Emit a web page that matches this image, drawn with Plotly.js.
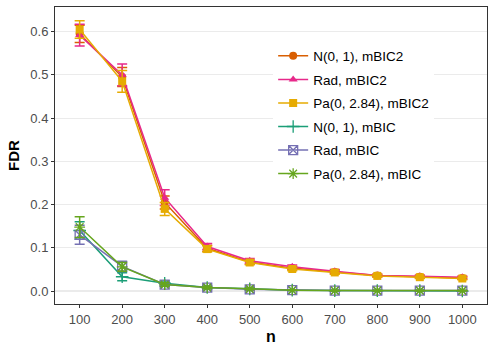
<!DOCTYPE html>
<html>
<head>
<meta charset="utf-8">
<script src="https://cdn.plot.ly/plotly-3.0.1.min.js"></script>
<style>html,body{margin:0;padding:0;background:#fff;}#chart{width:495px;height:350px;}</style>
</head>
<body>
<div id="chart"></div>
<script>
const n = [100, 200, 300, 400, 500, 600, 700, 800, 900, 1000];
const seriesNames = ["N(0, 1), mBIC2", "Rad, mBIC2", "Pa(0, 2.84), mBIC2", "N(0, 1), mBIC", "Rad, mBIC", "Pa(0, 2.84), mBIC"];
const fdrNormMBIC2 = [0.595, 0.495, 0.205, 0.099, 0.067, 0.053, 0.044, 0.036, 0.033, 0.030];
const errNormMBIC2 = [0.020, 0.022, 0.015, 0.007, 0.005, 0.004, 0.004, 0.003, 0.003, 0.003];
const fdrRadMBIC2 = [0.592, 0.500, 0.216, 0.103, 0.070, 0.056, 0.046, 0.036, 0.034, 0.032];
const errRadMBIC2 = [0.025, 0.025, 0.018, 0.007, 0.005, 0.004, 0.004, 0.003, 0.003, 0.003];
const fdrParMBIC2 = [0.605, 0.485, 0.190, 0.097, 0.066, 0.051, 0.043, 0.035, 0.032, 0.029];
const errParMBIC2 = [0.020, 0.025, 0.015, 0.007, 0.005, 0.004, 0.004, 0.003, 0.003, 0.003];
const fdrNormMBIC = [0.140, 0.033, 0.018, 0.008, 0.005, 0.002, 0.001, 0.001, 0.001, 0.000];
const errNormMBIC = [0.020, 0.009, 0.005, 0.003, 0.002, 0.001, 0.001, 0.001, 0.001, 0.000];
const fdrRadMBIC = [0.130, 0.057, 0.015, 0.008, 0.004, 0.002, 0.001, 0.001, 0.001, 0.001];
const errRadMBIC = [0.022, 0.012, 0.004, 0.003, 0.002, 0.001, 0.001, 0.001, 0.001, 0.001];
const fdrParMBIC = [0.148, 0.056, 0.015, 0.008, 0.005, 0.002, 0.001, 0.001, 0.001, 0.001];
const errParMBIC = [0.024, 0.010, 0.004, 0.003, 0.002, 0.001, 0.001, 0.001, 0.001, 0.001];
const yTicks = [0.0, 0.1, 0.2, 0.3, 0.4, 0.5, 0.6];
const yTickText = ["0.0", "0.1", "0.2", "0.3", "0.4", "0.5", "0.6"];

const colors = ["#D95F02", "#E7298A", "#E6AB02", "#1B9E77", "#7570B3", "#66A61E"];
const symbols = ["circle", "triangle-up", "square", "cross-thin-open", "square-x-open", "asterisk-open"];
const ys = [fdrNormMBIC2, fdrRadMBIC2, fdrParMBIC2, fdrNormMBIC, fdrRadMBIC, fdrParMBIC];
const es = [errNormMBIC2, errRadMBIC2, errParMBIC2, errNormMBIC, errRadMBIC, errParMBIC];

const traces = ys.map((y, i) => ({
  type: "scatter", mode: "lines+markers", x: n, y: y, name: seriesNames[i],
  legendgroup: "g" + i,
  line: {color: colors[i], width: 1.5},
  marker: {color: colors[i], symbol: symbols[i], size: i >= 3 ? 9 : 8, line: {color: colors[i], width: i >= 3 ? 1.3 : 0}},
  error_y: {type: "data", array: es[i], visible: true, color: colors[i], thickness: 1.5, width: 5}
}));

const layout = {
  width: 495, height: 350,
  margin: {l: 55, r: 8, t: 7, b: 46},
  paper_bgcolor: "#fff", plot_bgcolor: "#fff",
  font: {family: "Liberation Sans, Arial, sans-serif", size: 13, color: "#4D4D4D"},
  xaxis: {
    range: [42, 1058], tickvals: n, ticktext: n.map(String), showgrid: false, zeroline: false,
    showline: true, mirror: true, linecolor: "#333333", linewidth: 1,
    ticks: "outside", ticklen: 3, tickcolor: "#333333", tickwidth: 1,
    tickfont: {size: 13, color: "#4D4D4D"},
    title: {text: "<b>n</b>", font: {size: 16, color: "#000"}, standoff: 5}
  },
  yaxis: {
    range: [-0.030, 0.657], tickvals: yTicks, ticktext: yTickText, showgrid: true, gridcolor: "#EBEBEB", gridwidth: 1.2,
    zeroline: false, showline: true, mirror: true, linecolor: "#333333", linewidth: 1,
    ticks: "outside", ticklen: 3, tickcolor: "#333333", tickwidth: 1,
    tickfont: {size: 13, color: "#4D4D4D"},
    title: {text: "<b>FDR</b>", font: {size: 15, color: "#000"}, standoff: 7}
  },
  showlegend: true,
  legend: {x: 0.505, y: 0.887, xanchor: "left", yanchor: "top", bgcolor: "#fff", borderwidth: 0,
    font: {size: 13.5, color: "#000"}, tracegroupgap: 3, itemwidth: 30},
};

Plotly.newPlot("chart", traces, layout, {displayModeBar: false, staticPlot: true});
</script>
</body>
</html>
